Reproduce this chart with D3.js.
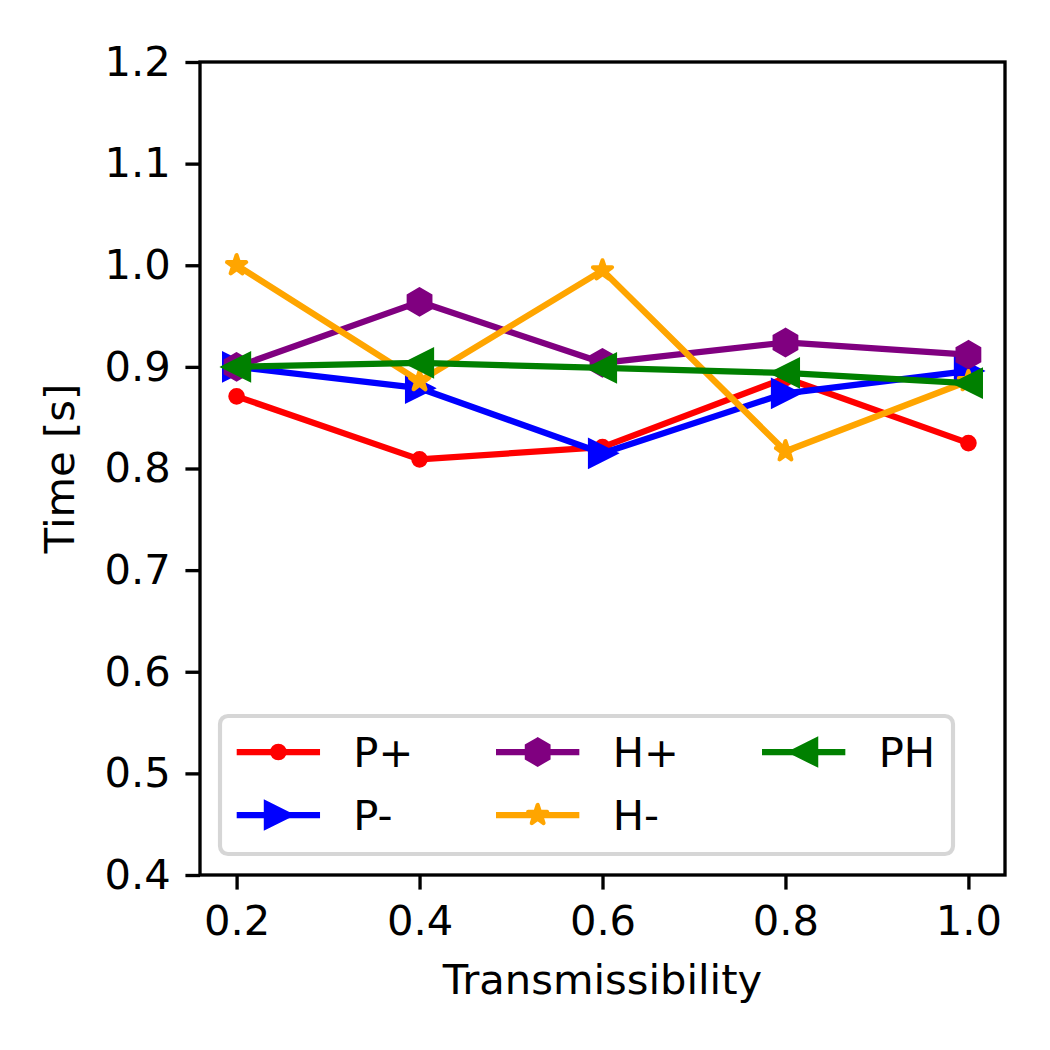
<!DOCTYPE html>
<html><head><meta charset="utf-8">
<script src="https://cdn.jsdelivr.net/npm/d3@7"></script>
<style>body{margin:0;background:#fff}svg{display:block}text{font-family:"DejaVu Sans",sans-serif}</style>
</head><body>
<script>
const xValues = [0.2, 0.4, 0.6, 0.8, 1.0];
const seriesNames = ["P+", "P-", "H+", "H-", "PH"];
const seriesColors = ["red", "blue", "purple", "orange", "green"];
const seriesMarkers = ["point", "triRight", "hexagon", "star", "triLeft"];
const pPlus  = [0.871, 0.809, 0.821, 0.889, 0.825];
const pMinus = [0.900, 0.879, 0.815, 0.874, 0.896];
const hPlus  = [0.900, 0.964, 0.904, 0.924, 0.912];
const hMinus = [1.000, 0.886, 0.995, 0.817, 0.886];
const ph     = [0.900, 0.904, 0.899, 0.894, 0.884];
const seriesValues = [pPlus, pMinus, hPlus, hMinus, ph];
const xTicks = [0.2, 0.4, 0.6, 0.8, 1.0];
const yTicks = [0.4, 0.5, 0.6, 0.7, 0.8, 0.9, 1.0, 1.1, 1.2];

const W = 1050, H = 1050;
const PT = 300/72;
const FS = 10*PT;
const L = 200, R = 1005, T = 62, B = 875;
const svg = d3.select("body").append("svg").attr("width", W).attr("height", H);

const x = d3.scaleLinear().domain([0.16, 1.04]).range([L, R]);
const y = d3.scaleLinear().domain([0.4, 1.2]).range([B, T]);

const ms = 6*PT;
function markerPath(type, s) {
  const r = s/2;
  const p = d3.path();
  const poly = pts => { pts.forEach((q,i)=> i? p.lineTo(q[0],q[1]) : p.moveTo(q[0],q[1])); p.closePath(); };
  if (type === "point") { p.arc(0,0,r*0.5,0,2*Math.PI); }
  else if (type === "triRight") { poly([[r,0],[-r,-r],[-r,r]]); }
  else if (type === "triLeft") { poly([[-r,0],[r,-r],[r,r]]); }
  else if (type === "hexagon") {
    const pts=[]; for(let i=0;i<6;i++){const a=Math.PI/2+i*Math.PI/3; pts.push([r*Math.cos(a), -r*Math.sin(a)]);} poly(pts);
  } else if (type === "star") {
    const rs = r*0.8;
    const pts=[]; const ri = rs*0.381966;
    for(let i=0;i<10;i++){const a=Math.PI/2+i*Math.PI/5; const rr = i%2? ri : rs; pts.push([rr*Math.cos(a), -rr*Math.sin(a)]);} poly(pts);
  }
  return p.toString();
}
const joinFor = t => t === "star" ? "round" : "miter";

// axes ticks
const tickLen = 3.5*PT, tickW = 0.8*PT;
const gx = svg.append("g").attr("transform", `translate(0,${B})`)
  .call(d3.axisBottom(x).tickValues(xTicks).tickFormat(d3.format(".1f")).tickSizeInner(tickLen).tickSizeOuter(0).tickPadding(3.5*PT));
const gy = svg.append("g").attr("transform", `translate(${L},0)`)
  .call(d3.axisLeft(y).tickValues(yTicks).tickFormat(d3.format(".1f")).tickSizeInner(tickLen).tickSizeOuter(0).tickPadding(3.5*PT));
[gx, gy].forEach(g => {
  g.select(".domain").remove();
  g.selectAll(".tick line").attr("stroke", "#000").attr("stroke-width", tickW);
  g.selectAll(".tick text").attr("font-size", FS).attr("fill", "#000").attr("font-family", "DejaVu Sans");
});
gx.selectAll(".tick text").attr("dy", "0.75em");

const plot = svg.append("g");
seriesValues.forEach((vals, si) => {
  const col = seriesColors[si];
  const line = d3.line().x((d,i)=>x(xValues[i])).y(d=>y(d));
  plot.append("path").attr("d", line(vals)).attr("fill","none").attr("stroke", col)
    .attr("stroke-width", 1.5*PT).attr("stroke-linejoin","round").attr("stroke-linecap","square");
  plot.selectAll(null).data(vals).enter().append("path")
    .attr("d", markerPath(seriesMarkers[si], ms))
    .attr("transform", (d,i)=>`translate(${x(xValues[i])},${y(d)})`)
    .attr("fill", col).attr("stroke", col).attr("stroke-width", 1*PT).attr("stroke-linejoin", joinFor(seriesMarkers[si]));
});

// spines
svg.append("rect").attr("x", L).attr("y", T).attr("width", R-L).attr("height", B-T)
  .attr("fill","none").attr("stroke","#000").attr("stroke-width", 0.8*PT);

// axis labels
svg.append("text").attr("x", (L+R)/2).attr("y", 983).attr("text-anchor","middle")
  .attr("font-size", FS).attr("dominant-baseline","middle").text("Transmissibility");
svg.append("text").attr("transform", `translate(63,${(T+B)/2}) rotate(-90)`).attr("text-anchor","middle")
  .attr("font-size", FS).attr("dominant-baseline","middle").text("Time [s]");

// legend
const lg = svg.append("g");
lg.append("rect").attr("x", 220).attr("y", 716).attr("width", 733).attr("height", 138)
  .attr("rx", 8).attr("ry", 8).attr("fill", "rgba(255,255,255,0.8)").attr("stroke", "#d6d6d6").attr("stroke-width", 1*PT);
const colStarts = [236.7, 496, 762];
const rowY = [752, 815];
const handleLen = 2*FS, textPad = 0.8*FS;
seriesNames.forEach((name, si) => {
  const c = Math.floor(si/2), r = si%2;
  const x0 = colStarts[c], yy = rowY[r];
  const col = seriesColors[si];
  lg.append("line").attr("x1", x0).attr("x2", x0+handleLen).attr("y1", yy).attr("y2", yy)
    .attr("stroke", col).attr("stroke-width", 1.5*PT);
  lg.append("path").attr("d", markerPath(seriesMarkers[si], ms))
    .attr("transform", `translate(${x0+handleLen/2},${yy})`)
    .attr("fill", col).attr("stroke", col).attr("stroke-width", 1*PT).attr("stroke-linejoin", joinFor(seriesMarkers[si]));
  lg.append("text").attr("x", x0+handleLen+textPad).attr("y", yy).attr("dominant-baseline","central")
    .attr("font-size", FS).text(name);
});
</script>
</body></html>
